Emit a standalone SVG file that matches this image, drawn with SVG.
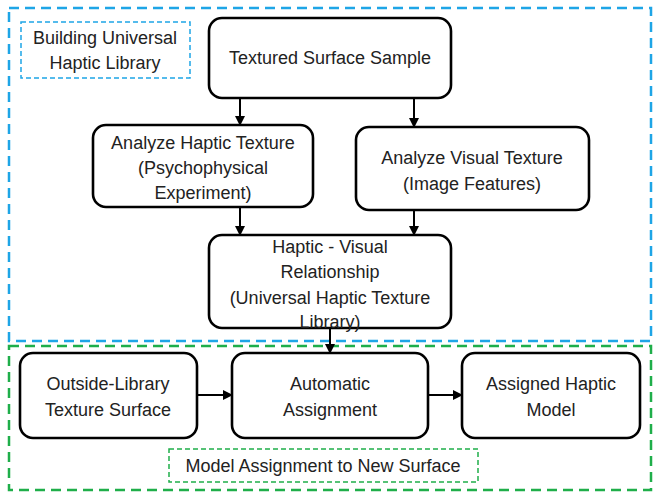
<svg xmlns="http://www.w3.org/2000/svg" width="655" height="493" viewBox="0 0 655 493">
<defs>
<style>
.node{fill:#fff;stroke:#000;stroke-width:2.6}
.t{font-family:"Liberation Sans",Arial,sans-serif;font-size:18px;fill:#222;text-anchor:middle}
.blue{fill:none;stroke:#1ea5e6;stroke-width:2.5;stroke-dasharray:10 6}
.green{fill:none;stroke:#1fae4a;stroke-width:2.5;stroke-dasharray:10 6}
.bluel{fill:#fff;stroke:#1ea5e6;stroke-width:1.5;stroke-dasharray:5 3}
.greenl{fill:#fff;stroke:#1fae4a;stroke-width:1.5;stroke-dasharray:5 3}
.c{stroke:#000;stroke-width:2;fill:none;marker-end:url(#ah)}
</style>
<marker id="ah" viewBox="0 0 10 10" refX="9" refY="5" markerWidth="5" markerHeight="5" orient="auto" markerUnits="strokeWidth">
<path d="M0,0 L10,5 L0,10 z" fill="#000"/>
</marker>
</defs>
<rect width="655" height="493" fill="#fff"/>
<g id="region-build"><rect class="blue" x="9" y="8" width="642" height="333"/></g>
<g id="region-assign"><rect class="green" x="9" y="346" width="642" height="144"/></g>
<g id="label-build"><rect class="bluel" x="21" y="22" width="169" height="56"/>
<text class="t" x="105" y="44">Building Universal</text><text class="t" x="105" y="69">Haptic Library</text></g>
<g id="label-assign"><rect class="greenl" x="169" y="449" width="309" height="33"/>
<text class="t" x="323" y="472">Model Assignment to New Surface</text></g>
<g id="connectors">
<path class="c" d="M240,98 V125"/>
<path class="c" d="M414,98 V127"/>
<path class="c" d="M240,207 V235"/>
<path class="c" d="M414,210 V235"/>
<path class="c" d="M330,328 V353"/>
<path class="c" d="M197,395 H232"/>
<path class="c" d="M428,395 H462"/>
</g>
<g id="n-sample"><rect class="node" x="209" y="18" width="242" height="80" rx="13"/>
<text class="t" x="330" y="64">Textured Surface Sample</text></g>
<g id="n-haptic"><rect class="node" x="93" y="125" width="220" height="82" rx="13"/>
<text class="t" x="203" y="149">Analyze Haptic Texture</text>
<text class="t" x="203" y="174">(Psychophysical</text>
<text class="t" x="203" y="199">Experiment)</text></g>
<g id="n-visual"><rect class="node" x="356" y="127" width="233" height="83" rx="13"/>
<text class="t" x="472" y="164">Analyze Visual Texture</text>
<text class="t" x="472" y="190">(Image Features)</text></g>
<g id="n-relation"><rect class="node" x="209" y="235" width="242" height="93" rx="13"/>
<text class="t" x="330" y="253">Haptic - Visual</text>
<text class="t" x="330" y="278">Relationship</text>
<text class="t" x="330" y="304">(Universal Haptic Texture</text>
<text class="t" x="330" y="328">Library)</text></g>
<g id="n-outside"><rect class="node" x="20" y="353" width="177" height="85" rx="13"/>
<text class="t" x="108" y="390">Outside-Library</text>
<text class="t" x="108" y="416">Texture Surface</text></g>
<g id="n-auto"><rect class="node" x="232" y="353" width="196" height="85" rx="13"/>
<text class="t" x="330" y="390">Automatic</text>
<text class="t" x="330" y="416">Assignment</text></g>
<g id="n-model"><rect class="node" x="462" y="353" width="178" height="85" rx="13"/>
<text class="t" x="551" y="390">Assigned Haptic</text>
<text class="t" x="551" y="416">Model</text></g>
</svg>
